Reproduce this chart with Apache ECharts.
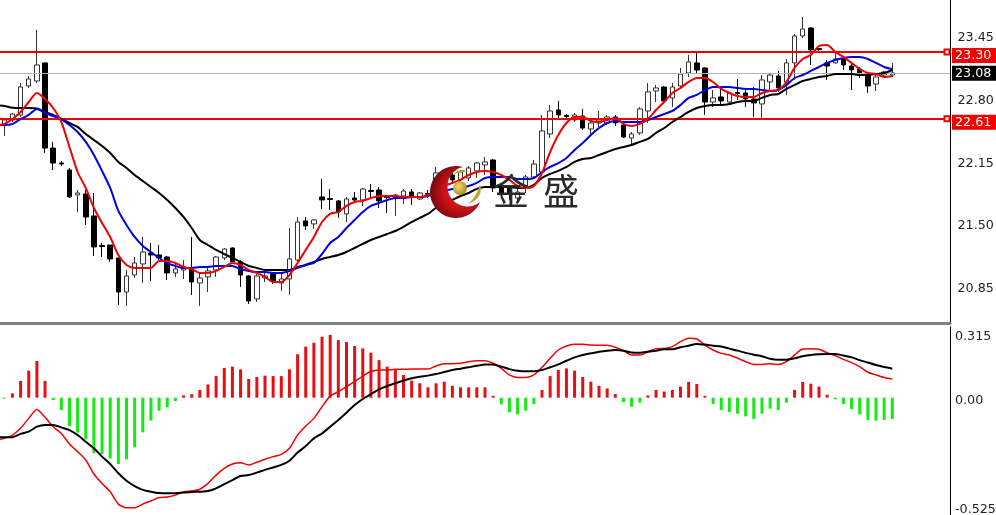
<!DOCTYPE html>
<html><head><meta charset="utf-8">
<style>html,body{margin:0;padding:0;background:#fff}#c{width:996px;height:515px}</style>
<script src="https://cdn.jsdelivr.net/npm/echarts@6/dist/echarts.min.js"></script>
</head><body><div id="c"></div>
<script>
const opens=[22.545,22.597,22.649,22.949,23.000,23.187,22.307,22.152,22.080,21.822,21.832,21.604,21.299,21.304,21.170,20.818,20.994,21.108,21.222,21.201,21.180,21.015,21.046,21.067,20.911,20.974,21.046,21.170,21.273,21.129,20.984,20.746,20.963,21.015,20.911,20.953,21.149,21.553,21.522,21.801,21.785,21.760,21.625,21.790,21.770,21.868,21.873,21.806,21.790,21.811,21.852,21.780,21.837,21.977,21.915,22.028,21.977,21.997,22.070,22.132,22.183,21.904,21.894,21.790,21.894,22.008,22.059,22.452,22.700,22.644,22.597,22.638,22.504,22.566,22.566,22.628,22.545,22.411,22.463,22.690,22.897,22.938,22.825,22.949,23.083,23.187,23.135,22.783,22.835,22.783,22.881,22.876,22.814,22.763,22.990,23.052,22.990,23.187,23.466,23.548,23.336,23.187,23.187,23.228,23.155,23.124,23.073,22.969,23.062,23.062];
const closes=[22.597,22.659,22.938,23.021,23.166,22.307,22.152,22.142,21.801,21.842,21.594,21.284,21.289,21.160,20.818,20.984,21.118,21.232,21.201,21.170,21.015,21.056,21.077,20.922,20.963,21.036,21.180,21.263,21.129,20.994,20.725,20.984,20.984,20.932,20.953,21.160,21.542,21.501,21.563,21.770,21.775,21.646,21.780,21.770,21.883,21.858,21.760,21.796,21.822,21.863,21.811,21.842,21.827,22.049,21.977,21.977,22.059,22.101,22.152,22.163,21.894,21.822,21.832,21.852,22.008,22.142,22.483,22.690,22.649,22.634,22.649,22.514,22.566,22.597,22.628,22.566,22.421,22.452,22.711,22.887,22.928,22.794,22.938,23.073,23.197,23.114,22.783,22.825,22.794,22.876,22.871,22.814,22.773,23.011,23.062,22.928,23.187,23.466,23.538,23.321,23.326,23.155,23.228,23.166,23.114,23.062,22.949,23.042,23.093,23.083];
const lows=[22.432,22.576,22.628,22.928,22.980,22.256,22.080,22.121,21.790,21.646,21.511,21.191,21.180,21.129,20.684,20.674,20.963,20.911,20.932,21.149,20.943,20.974,20.953,20.787,20.674,20.818,20.974,21.149,21.108,20.870,20.694,20.715,20.922,20.901,20.829,20.787,21.129,21.460,21.470,21.677,21.666,21.584,21.542,21.749,21.708,21.801,21.687,21.635,21.604,21.728,21.718,21.770,21.790,21.873,21.852,21.935,21.935,21.966,21.997,22.028,21.852,21.790,21.770,21.739,21.842,21.997,22.028,22.411,22.618,22.618,22.576,22.494,22.442,22.525,22.545,22.535,22.410,22.339,22.442,22.566,22.783,22.773,22.731,22.928,23.042,23.083,22.649,22.731,22.742,22.773,22.804,22.731,22.628,22.618,22.887,22.887,22.856,23.011,23.445,23.166,23.300,23.011,23.180,23.114,22.907,23.031,22.876,22.897,23.052,23.042];
const highs=[22.618,22.669,22.980,23.052,23.528,23.190,22.370,22.173,22.101,21.873,21.873,21.842,21.325,21.304,21.170,21.046,21.180,21.387,21.325,21.304,21.191,21.129,21.149,21.387,21.025,21.067,21.190,21.273,21.280,21.149,20.990,21.005,21.015,21.020,21.015,21.480,21.594,21.594,21.570,21.987,21.883,21.770,21.801,21.852,21.894,21.935,21.904,21.810,21.830,21.883,21.883,21.852,21.873,22.111,22.018,22.059,22.080,22.121,22.163,22.214,22.194,21.925,21.925,21.904,22.028,22.183,22.649,22.752,22.794,22.659,22.669,22.711,22.607,22.690,22.649,22.649,22.566,22.473,22.731,22.980,22.959,22.945,22.980,23.135,23.269,23.290,23.140,22.907,22.918,22.887,23.021,22.907,22.938,23.062,23.083,23.104,23.228,23.486,23.662,23.555,23.342,23.218,23.290,23.249,23.187,23.145,23.093,23.062,23.104,23.187];
// line series start one bar before the first candle (it is cut off at the chart's left edge)
const maSlow=[22.752,22.742,22.724,22.721,22.721,22.716,22.680,22.649,22.607,22.566,22.525,22.452,22.390,22.328,22.256,22.163,22.101,22.028,21.966,21.904,21.842,21.770,21.687,21.594,21.480,21.356,21.304,21.253,21.211,21.170,21.129,21.087,21.067,21.046,21.046,21.046,21.046,21.077,21.098,21.129,21.160,21.180,21.201,21.232,21.273,21.315,21.356,21.387,21.418,21.449,21.491,21.542,21.584,21.625,21.687,21.718,21.770,21.811,21.842,21.884,21.904,21.904,21.904,21.904,21.894,21.894,21.925,21.997,22.039,22.070,22.111,22.163,22.194,22.204,22.235,22.266,22.297,22.318,22.339,22.370,22.401,22.463,22.514,22.576,22.628,22.680,22.721,22.742,22.752,22.752,22.763,22.783,22.794,22.794,22.825,22.856,22.866,22.918,22.959,23.000,23.021,23.042,23.052,23.073,23.073,23.073,23.062,23.062,23.073,23.083,23.114];
const maMid=[22.545,22.545,22.556,22.607,22.649,22.711,22.669,22.638,22.607,22.545,22.473,22.370,22.235,22.070,21.894,21.656,21.511,21.387,21.294,21.232,21.170,21.118,21.087,21.067,21.067,21.077,21.077,21.087,21.087,21.087,21.056,21.036,21.025,21.025,21.015,21.015,21.036,21.067,21.098,21.118,21.211,21.325,21.387,21.480,21.563,21.646,21.708,21.739,21.770,21.790,21.790,21.801,21.801,21.811,21.842,21.863,21.884,21.894,21.915,21.946,21.997,22.008,22.008,22.008,21.987,21.987,21.997,22.059,22.111,22.152,22.204,22.287,22.359,22.442,22.514,22.566,22.587,22.576,22.576,22.576,22.597,22.628,22.659,22.690,22.752,22.825,22.856,22.907,22.938,22.938,22.938,22.928,22.918,22.918,22.907,22.897,22.907,22.959,23.031,23.062,23.104,23.145,23.187,23.218,23.238,23.249,23.249,23.228,23.187,23.145,23.124];
const maFast=[22.545,22.556,22.607,22.680,22.783,22.876,22.814,22.721,22.576,22.318,22.059,21.894,21.687,21.532,21.387,21.201,21.098,21.067,21.067,21.067,21.139,21.139,21.118,21.077,21.056,21.015,21.015,21.036,21.077,21.118,21.098,21.046,21.015,20.974,20.922,20.922,20.994,21.118,21.253,21.387,21.542,21.625,21.646,21.708,21.749,21.760,21.790,21.811,21.811,21.811,21.801,21.801,21.801,21.822,21.873,21.915,21.946,21.977,22.028,22.059,22.070,22.059,22.028,21.977,21.915,21.894,21.915,22.049,22.266,22.442,22.566,22.628,22.628,22.587,22.576,22.597,22.618,22.556,22.535,22.556,22.607,22.700,22.783,22.876,22.928,22.990,23.031,23.031,22.990,22.918,22.876,22.845,22.835,22.835,22.876,22.897,22.907,22.990,23.135,23.228,23.269,23.362,23.373,23.300,23.249,23.187,23.124,23.083,23.073,23.042,23.052];
const histValues=[-0.005,0.019,0.074,0.12,0.163,0.074,-0.01,-0.055,-0.126,-0.155,-0.185,-0.247,-0.25,-0.27,-0.295,-0.274,-0.22,-0.154,-0.102,-0.058,-0.043,-0.015,0.01,0.015,0.034,0.059,0.096,0.132,0.138,0.126,0.083,0.092,0.098,0.096,0.096,0.126,0.193,0.227,0.244,0.271,0.279,0.256,0.247,0.23,0.219,0.2,0.167,0.138,0.123,0.101,0.076,0.064,0.046,0.064,0.071,0.053,0.046,0.046,0.046,0.046,0.008,-0.03,-0.065,-0.074,-0.058,-0.028,0.034,0.096,0.123,0.13,0.12,0.092,0.071,0.053,0.041,0.016,-0.019,-0.04,-0.022,0.01,0.034,0.027,0.034,0.049,0.07,0.061,0.008,-0.028,-0.055,-0.064,-0.071,-0.083,-0.095,-0.071,-0.049,-0.055,-0.022,0.034,0.07,0.062,0.049,0.013,-0.007,-0.028,-0.05,-0.074,-0.099,-0.102,-0.099,-0.095];
const macdFast=[-0.188,-0.181,-0.166,-0.136,-0.092,-0.052,-0.087,-0.129,-0.159,-0.206,-0.24,-0.277,-0.339,-0.381,-0.418,-0.473,-0.489,-0.489,-0.473,-0.459,-0.444,-0.441,-0.433,-0.418,-0.415,-0.407,-0.381,-0.344,-0.314,-0.295,-0.289,-0.299,-0.287,-0.274,-0.262,-0.252,-0.225,-0.166,-0.126,-0.092,-0.04,0.007,0.027,0.049,0.071,0.096,0.116,0.123,0.123,0.126,0.126,0.127,0.127,0.127,0.141,0.151,0.151,0.153,0.16,0.164,0.164,0.153,0.13,0.101,0.09,0.09,0.101,0.135,0.175,0.212,0.23,0.237,0.237,0.234,0.233,0.233,0.224,0.209,0.19,0.19,0.204,0.218,0.219,0.227,0.249,0.264,0.261,0.234,0.212,0.197,0.19,0.175,0.16,0.148,0.148,0.151,0.147,0.16,0.19,0.216,0.218,0.215,0.2,0.187,0.17,0.156,0.138,0.113,0.101,0.09,0.083];
const macdSignal=[-0.176,-0.176,-0.176,-0.161,-0.151,-0.129,-0.121,-0.121,-0.132,-0.144,-0.166,-0.196,-0.225,-0.262,-0.295,-0.336,-0.369,-0.393,-0.41,-0.418,-0.424,-0.425,-0.425,-0.422,-0.419,-0.418,-0.415,-0.403,-0.384,-0.366,-0.348,-0.344,-0.333,-0.321,-0.31,-0.299,-0.28,-0.244,-0.215,-0.181,-0.159,-0.129,-0.099,-0.067,-0.033,-0.006,0.016,0.037,0.052,0.064,0.076,0.086,0.093,0.098,0.105,0.114,0.123,0.129,0.135,0.142,0.147,0.148,0.138,0.127,0.12,0.117,0.117,0.123,0.135,0.148,0.164,0.179,0.19,0.197,0.204,0.209,0.212,0.209,0.201,0.2,0.204,0.209,0.215,0.215,0.224,0.231,0.239,0.236,0.231,0.227,0.218,0.209,0.199,0.191,0.184,0.173,0.169,0.169,0.175,0.184,0.19,0.193,0.194,0.194,0.187,0.179,0.167,0.156,0.145,0.136,0.129];
const priceTicks=[20.85,21.50,22.15,22.80,23.45];
const macdTicks=[-0.525,0,0.315];
const macdTickLabels={'-0.525':'-0.525','0':'{z|0.00}','0.315':'0.315'};
const resistance=23.30, support=22.61, lastPrice=23.08;

const FONT='"DejaVu Sans"';
const FS=12.7;
const pair=a=>a.map((v,i)=>[i-1,v]);
const candles=opens.map((o,i)=>[i,o,closes[i],lows[i],highs[i]]);
const xMin=-0.528,xMax=116.08,levelEnd=115.71;
const lineS=(name,data,color,width,ax,z)=>({name,type:'line',data:pair(data),xAxisIndex:ax,yAxisIndex:ax,showSymbol:false,symbol:'none',smooth:0.25,z,lineStyle:{color,width}});
const redLine={color:'#f00000',width:2,type:'solid'};
const tag=(bg,extra)=>Object.assign({show:true,position:'end',color:'#fff',backgroundColor:bg,fontFamily:FONT,fontSize:FS,width:41,height:15,lineHeight:15,align:'left',verticalAlign:'middle',padding:[0,0,0,3]},extra);
const level=v=>[{xAxis:xMin,yAxis:v,symbol:'none',lineStyle:redLine,label:tag('#f50000',{distance:5,offset:[0,3.5],formatter:v.toFixed(2)})},{xAxis:levelEnd,yAxis:v,symbol:'emptyRect',symbolSize:5}];

// logo outline helpers (decoration only, not chart data)
const arc=(cx,cy,r,a0,a1,n)=>Array.from({length:n+1},(_,k)=>{const a=(a0+(a1-a0)*k/n)*Math.PI/180;return [cx+r*Math.cos(a),cy+r*Math.sin(a)];});
const quad=(p0,c,p1,n)=>Array.from({length:n+1},(_,k)=>{const t=k/n,u=1-t;return [u*u*p0[0]+2*u*t*c[0]+t*t*p1[0],u*u*p0[1]+2*u*t*c[1]+t*t*p1[1]];});
const crescent=arc(456,192,26,-74.4,-337.4,60).concat(arc(467.5,186.45,20,51.2,257,40));
const leafTop=quad([453,175],[460,167],[469,172],12).concat(quad([469,172],[461,171],[453,175],12));
const leafRight=quad([480,184],[484,198],[468,204],12).concat(quad([468,204],[477,196],[480,184],12));

const chart=echarts.init(document.getElementById('c'),null,{renderer:'canvas'});
chart.setOption({
  animation:false,backgroundColor:'#fff',
  grid:[{left:0,top:0,width:950,height:323.5,outerBoundsMode:'none'},{left:0,top:326.8,width:950,height:189,outerBoundsMode:'none'}],
  xAxis:[
    {gridIndex:0,type:'value',min:xMin,max:xMax,axisLine:{show:true,onZero:false,lineStyle:{color:'#808080',width:3}},axisTick:{show:false},axisLabel:{show:false},splitLine:{show:false}},
    {gridIndex:1,type:'value',min:xMin,max:xMax,axisLine:{show:false},axisTick:{show:false},axisLabel:{show:false},splitLine:{show:false}}
  ],
  yAxis:[
    {gridIndex:0,type:'value',position:'right',min:20.4923,max:23.8377,axisLine:{show:true,onZero:false,lineStyle:{color:'#000',width:1}},axisTick:{show:false},splitLine:{show:false},
     axisLabel:{customValues:priceTicks,margin:7.5,color:'#222',fontFamily:FONT,fontSize:FS,padding:[8,0,0,0],formatter:v=>v.toFixed(2)}},
    {gridIndex:1,type:'value',position:'right',min:-0.525,max:0.315,axisLine:{show:true,onZero:false,lineStyle:{color:'#000',width:1}},axisTick:{show:false},splitLine:{show:false},
     axisLabel:{customValues:macdTicks,margin:5,color:'#222',fontFamily:FONT,fontSize:FS,padding:[3,0,0,0],verticalAlignMaxLabel:'top',verticalAlignMinLabel:'bottom',rich:{z:{fontFamily:FONT,fontSize:FS,color:'#222',padding:[4,0,0,0]}},formatter:v=>macdTickLabels[String(v)]}}
  ],
  series:[
    {name:'Price',type:'candlestick',data:candles,xAxisIndex:0,yAxisIndex:0,encode:{x:0,y:[1,2,3,4]},barWidth:5,z:2,
     itemStyle:{color:'#fff',color0:'#000',borderColor:'#333',borderColor0:'#000',borderWidth:1},
     markLine:{silent:true,animation:false,z:4,precision:2,symbol:['none','none'],
       data:[
         {yAxis:lastPrice,lineStyle:{color:'#b4b4b4',width:1,type:'solid'},label:tag('#000',{distance:2,offset:[0,0],formatter:lastPrice.toFixed(2)})},
         level(resistance),
         level(support)
       ]
     }},
    lineS('MA slow',maSlow,'#000',2,0,5),
    lineS('MA mid',maMid,'#0000e6',2,0,6),
    lineS('MA fast',maFast,'#f00000',2,0,7),
    {name:'Histogram',type:'bar',data:histValues.map((v,i)=>({value:[i,v],itemStyle:{color:v>=0?'#e60f14':'#14eb14'}})),xAxisIndex:1,yAxisIndex:1,barWidth:3,z:2},
    lineS('MACD',macdFast,'#f00000',1.5,1,5),
    lineS('Signal',macdSignal,'#000',2,1,6)
  ],
  graphic:[
    {type:'polygon',z:100,shape:{points:crescent},
     style:{fill:{type:'radial',x:0.62,y:0.5,r:0.62,colorStops:[{offset:0,color:'#f02020'},{offset:0.6,color:'#c41016'},{offset:1,color:'#720a0e'}]}}},
    {type:'polygon',z:100,shape:{points:leafTop},style:{fill:'#b9a33a'}},
    {type:'polygon',z:100,shape:{points:leafRight},style:{fill:'#b9a33a'}},
    {type:'circle',z:100,shape:{cx:460,cy:188,r:7},style:{fill:{type:'radial',x:0.4,y:0.4,r:0.6,colorStops:[{offset:0,color:'#f0dc78'},{offset:1,color:'#ae8f20'}]}}},
    {type:'text',z:100,x:511,y:191,style:{text:'金',fill:'#2a2a2a',font:'36px "Noto Sans CJK SC"',textAlign:'center',textVerticalAlign:'middle'}},
    {type:'text',z:100,x:561,y:191,style:{text:'盛',fill:'#2a2a2a',font:'36px "Noto Sans CJK SC"',textAlign:'center',textVerticalAlign:'middle'}}
  ]
});
</script></body></html>
